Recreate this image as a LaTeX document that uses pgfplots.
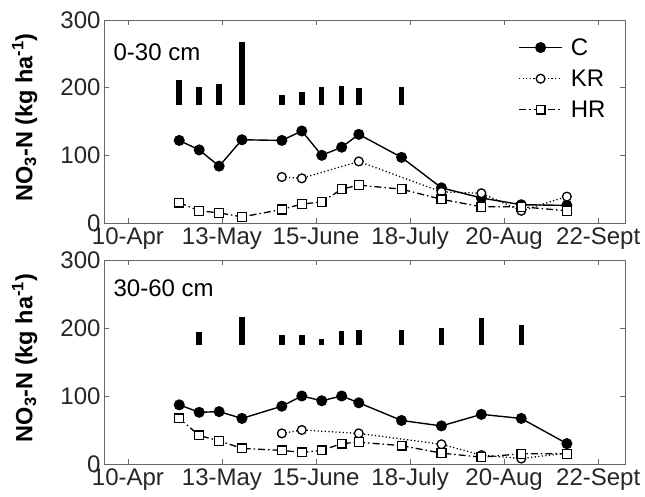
\documentclass[border=0pt]{standalone}
\usepackage{fontspec}
\setmainfont{Liberation Sans}
\usepackage{pgfplots}
\pgfplotsset{compat=1.18}

\pgfplotsset{
  panel/.style={
    scale only axis, width=521pt, height=203pt,
    xmin=91.6, xmax=274.4, ymin=0, ymax=300,
    xtick={100,133,166,199,232,265},
    xticklabels={10-Apr,13-May,15-June,18-July,20-Aug,22-Sept},
    ytick={0,100,200,300},
    tick align=inside, major tick length=5pt,
    axis line style={draw=black!60, line width=0.8pt},
    every tick/.style={black!60, line width=0.8pt},
    tick label style={font=\fontsize{24}{28}\selectfont, text=black!85},
    xticklabel style={yshift=-1pt},
    /pgf/number format/assume math mode=true,
    ylabel={\textbf{NO\textsubscript{3}-N (kg ha\textsuperscript{-1})}},
    every axis y label/.style={at={(axis description cs:-0.152,0.52)}, rotate=90, anchor=center, font=\fontsize{23.5}{27}\selectfont},
    clip=false,
  },
  cC/.style={black, line width=1.4pt, mark=*, mark size=4.8pt, mark options={solid}},
  cKR/.style={black, line width=1.3pt, dash pattern=on 1.2pt off 2.4pt, mark=*, mark size=4.4pt, mark options={solid, fill=white, line width=1.3pt}},
  cHR/.style={black, line width=1.3pt, dash pattern=on 7pt off 3pt on 1.5pt off 3pt, mark=square*, mark size=4.4pt, mark options={solid, fill=white, line width=1.3pt}},
  bars/.style={black, line width=5.5pt, unbounded coords=jump, forget plot},
}

\begin{document}
\begin{tikzpicture}
\useasboundingbox (0,0) rectangle (645pt,497pt);

% ---------- top panel: 0-30 cm ----------
\begin{axis}[panel, at={(104pt,274pt)}, anchor=south west,
  legend style={draw=none, fill=none, at={(rel axis cs:0.795,0.92)}, anchor=north west,
    font=\fontsize{24}{28}\selectfont, inner sep=0pt, row sep=9pt,
    /tikz/every odd column/.append style={column sep=6pt}},
  legend cell align=left,
  legend image code/.code={\draw[mark repeat=2,mark phase=2,#1] plot coordinates {(0pt,0pt) (21.5pt,0pt) (43pt,0pt)};},
]
\addplot[bars] coordinates {
 (118,175) (118,211) (118,nan)
 (125,175) (125,201) (125,nan)
 (132,175) (132,205) (132,nan)
 (140,175) (140,267) (140,nan)
 (154,175) (154,189) (154,nan)
 (161,175) (161,193) (161,nan)
 (168,175) (168,201) (168,nan)
 (175,175) (175,203) (175,nan)
 (181,175) (181,200) (181,nan)
 (196,175) (196,201)
};
\addplot[cC] coordinates {
 (118,122) (125,108) (132,84) (140,123) (154,122) (161,136) (168,100)
 (175,112) (181,131) (196,97) (210,52) (224,37) (238,27) (254,26)
};
\addlegendentry{C}
\addplot[cKR] coordinates {
 (154,68) (161,66) (181,91) (210,46) (224,44) (238,18) (254,39)
};
\addlegendentry{KR}
\addplot[cHR] coordinates {
 (118,30) (125,18) (132,15) (140,9) (154,20) (161,28) (168,31)
 (175,50) (181,56) (196,50) (210,35) (224,24) (238,24) (254,18)
};
\addlegendentry{HR}
\node[anchor=west, inner sep=0pt, font=\fontsize{24}{28}\selectfont] at (rel axis cs:0.018,0.842) {0-30 cm};
\end{axis}

% ---------- bottom panel: 30-60 cm ----------
\begin{axis}[panel, height=204pt, at={(104pt,33pt)}, anchor=south west]
\addplot[bars] coordinates {
 (125,175) (125,194) (125,nan)
 (140,175) (140,216) (140,nan)
 (154,175) (154,190) (154,nan)
 (161,175) (161,190) (161,nan)
 (168,175) (168,184) (168,nan)
 (175,175) (175,195) (175,nan)
 (181,175) (181,197) (181,nan)
 (196,175) (196,197) (196,nan)
 (210,175) (210,200) (210,nan)
 (224,175) (224,215) (224,nan)
 (238,175) (238,205)
};
\addplot[cC] coordinates {
 (118,87) (125,76) (132,77) (140,67) (154,85) (161,100) (168,93)
 (175,100) (181,90) (196,64) (210,56) (224,73) (238,67) (254,30)
};
\addplot[cKR] coordinates {
 (154,45) (161,50) (181,45) (210,29) (224,13) (238,8) (254,16)
};
\addplot[cHR] coordinates {
 (118,67) (125,42) (132,34) (140,23) (154,20) (161,17) (168,20)
 (175,30) (181,32) (196,27) (210,16) (224,10) (238,15) (254,15)
};
\node[anchor=west, inner sep=0pt, font=\fontsize{24}{28}\selectfont] at (rel axis cs:0.018,0.86) {30-60 cm};
\end{axis}
\end{tikzpicture}
\end{document}
